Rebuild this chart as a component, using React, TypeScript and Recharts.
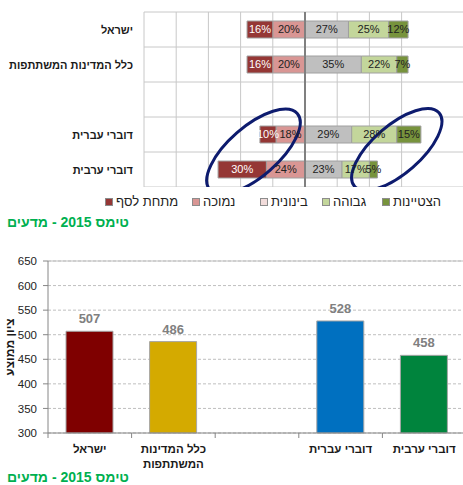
import { BarChart, Bar, XAxis, YAxis, CartesianGrid, LabelList, ReferenceLine, ReferenceDot, Cell } from "recharts"

const categories = ["ישראל", "כלל המדינות המשתתפות", " ", "דוברי עברית", "דוברי ערבית"]
const levelNames = ["מתחת לסף", "נמוכה", "בינונית", "גבוהה", "הצטיינות"]
const belowBasic = [16, 16, null, 10, 30]
const low = [20, 20, null, 18, 24]
const intermediate = [27, 35, null, 29, 23]
const high = [25, 22, null, 28, 17]
const advanced = [12, 7, null, 15, 5]
const averageScore = [507, 486, null, 528, 458]
const pctTicks = [-100, -80, -60, -40, -20, 0, 20, 40, 60, 80, 100]
const scoreTicks = [300, 350, 400, 450, 500, 550, 600, 650]
const chartTitle = "טימס 2015 - מדעים"

const FONT = "'Liberation Sans', Arial, sans-serif"
const levelColors = ["#953735", "#d99694", "#bfbfbf", "#c3d69b", "#77933c"]
const legendColors = ["#953735", "#d99694", "#f2dcdb", "#c3d69b", "#77933c"]
const scoreColors = ["#7f0000", "#d4aa00", "#ffffff", "#0070c0", "#00843d"]
// legend slot left edges (Excel-style uneven slots)
const legendSlots = [105, 192, 260, 322, 382]

const neg = (v: number | null) => (v == null ? null : -v)

const levelData = categories.map((name, i) => ({
  name,
  low: neg(low[i]),
  below: neg(belowBasic[i]),
  mid: intermediate[i],
  high: high[i],
  adv: advanced[i],
}))

const scoreData = categories.map((name, i) => ({ name, score: averageScore[i] }))

const pct = (v: any) => (v == null ? "" : Math.abs(v) + "%")

const CatTick = ({ x, y, payload }: any) => (
  <text x={x} y={y} dy={4} textAnchor="end" fontSize={11} fontWeight="bold" fill="#1a1a1a" fontFamily={FONT}>
    {payload.value}
  </text>
)

// band width of bottom chart (plot width / 5)
const BAND = (470 - 4 - 48) / 5

const ScoreTick = ({ x, y, payload }: any) => {
  const words = String(payload.value).split(" ")
  const lines = words.length > 2 ? [words.slice(0, 2).join(" "), words.slice(2).join(" ")] : [payload.value]
  return (
    <g>
      <line x1={x - BAND / 2} x2={x - BAND / 2} y1={y} y2={y + 5} stroke="#868686" />
      {lines.map((l, i) => (
        <text key={i} x={x} y={y + 20 + i * 15} textAnchor="middle" fontSize={11.5} fontWeight="bold" fill="#1a1a1a" fontFamily={FONT}>
          {l}
        </text>
      ))}
    </g>
  )
}

const ellipseShape = (dy: number, rx: number, ry: number) => (p: any) => (
  <ellipse
    cx={p.cx}
    cy={p.cy + dy}
    rx={rx}
    ry={ry}
    fill="none"
    stroke="#0d1b6e"
    strokeWidth={3}
    transform={`rotate(-41 ${p.cx} ${p.cy + dy})`}
  />
)

export default function App() {
  return (
    <div style={{ position: "absolute", left: 0, top: 0, width: 463, height: 485, overflow: "hidden", background: "#fff", fontFamily: FONT }}>
      <div style={{ position: "absolute", left: 0, top: 0 }}>
        <BarChart
          width={470}
          height={187}
          data={levelData}
          layout="vertical"
          stackOffset="sign"
          margin={{ top: 12, right: 4, bottom: 0, left: 0 }}
        >
          <CartesianGrid
            stroke="#c8c8c8"
            horizontalCoordinatesGenerator={({ offset }: any) =>
              [0, 1, 2, 3, 4, 5].map((i) => offset.top + (i * offset.height) / 5)
            }
          />
          <XAxis type="number" domain={[-100, 100]} ticks={pctTicks} hide />
          <YAxis type="category" dataKey="name" width={144} tickLine={false} axisLine={false} tickSize={0} tickMargin={11} tick={<CatTick />} />
          <Bar dataKey="low" stackId="a" fill={levelColors[1]} stroke="#a0a0a0" barSize={17} isAnimationActive={false}>
            <LabelList dataKey="low" position="center" formatter={pct} fill="#222" fontSize={11} />
          </Bar>
          <Bar dataKey="below" stackId="a" fill={levelColors[0]} stroke="#a0a0a0" barSize={17} isAnimationActive={false}>
            <LabelList dataKey="below" position="center" formatter={pct} fill="#fff" fontSize={11} />
          </Bar>
          <Bar dataKey="mid" stackId="a" fill={levelColors[2]} stroke="#a0a0a0" barSize={17} isAnimationActive={false}>
            <LabelList dataKey="mid" position="center" formatter={pct} fill="#222" fontSize={11} />
          </Bar>
          <Bar dataKey="high" stackId="a" fill={levelColors[3]} stroke="#a0a0a0" barSize={17} isAnimationActive={false}>
            <LabelList dataKey="high" position="center" formatter={pct} fill="#222" fontSize={11} />
          </Bar>
          <Bar dataKey="adv" stackId="a" fill={levelColors[4]} stroke="#a0a0a0" barSize={17} isAnimationActive={false}>
            <LabelList dataKey="adv" position="center" formatter={pct} fill="#222" fontSize={11} />
          </Bar>
          <ReferenceLine x={0} stroke="#808080" strokeWidth={2} />
          <ReferenceDot x={-32} y="דוברי עברית" r={1} shape={ellipseShape(17, 58, 25)} />
          <ReferenceDot x={57} y="דוברי עברית" r={1} shape={ellipseShape(15, 56, 24)} />
        </BarChart>
      </div>

      {levelNames.map((n, i) => (
        <div key={n} style={{ position: "absolute", left: legendSlots[i], top: 195, display: "flex", alignItems: "center", whiteSpace: "nowrap" }}>
          <span style={{ width: 6, height: 6, background: legendColors[i], border: "1px solid #8c8c8c", display: "inline-block" }} />
          <span dir="rtl" style={{ fontSize: 13, color: "#222", marginLeft: 3, lineHeight: "14px" }}>{n}</span>
        </div>
      ))}

      <div dir="rtl" style={{ position: "absolute", left: 7, top: 214, fontSize: 14, lineHeight: "16px", fontWeight: "bold", color: "#00b050" }}>
        {chartTitle}
      </div>

      <div style={{ position: "absolute", left: 0, top: 240 }}>
        <BarChart width={470} height={232} data={scoreData} margin={{ top: 21, right: 4, bottom: 0, left: 0 }}>
          <CartesianGrid vertical={false} stroke="#bfbfbf" strokeDasharray="3 2" />
          <XAxis dataKey="name" height={39} tickLine={false} tickSize={0} tickMargin={0} axisLine={{ stroke: "#868686" }} tick={<ScoreTick />} interval={0} />
          <YAxis
            domain={[300, 650]}
            ticks={scoreTicks}
            width={48}
            tickSize={5}
            tickMargin={6}
            axisLine={{ stroke: "#868686" }}
            tickLine={{ stroke: "#868686" }}
            tick={{ fontSize: 11.5, fill: "#222", fontFamily: FONT }}
            label={{ value: "ציון ממוצע", angle: -90, position: "center", dx: -14, fontSize: 12, fontWeight: "bold", fill: "#1a1a1a" }}
          />
          <ReferenceLine y={650} stroke="#bfbfbf" />
          <Bar dataKey="score" barSize={47} stroke="#a6a6a6" isAnimationActive={false}>
            {scoreData.map((d, i) => (
              <Cell key={i} fill={scoreColors[i]} />
            ))}
            <LabelList dataKey="score" position="top" offset={8} fill="#808080" fontSize={13} fontWeight="bold" />
          </Bar>
        </BarChart>
      </div>

      <div dir="rtl" style={{ position: "absolute", left: 7, top: 470, fontSize: 14, lineHeight: "15px", fontWeight: "bold", color: "#00b050" }}>
        {chartTitle}
      </div>
    </div>
  )
}
